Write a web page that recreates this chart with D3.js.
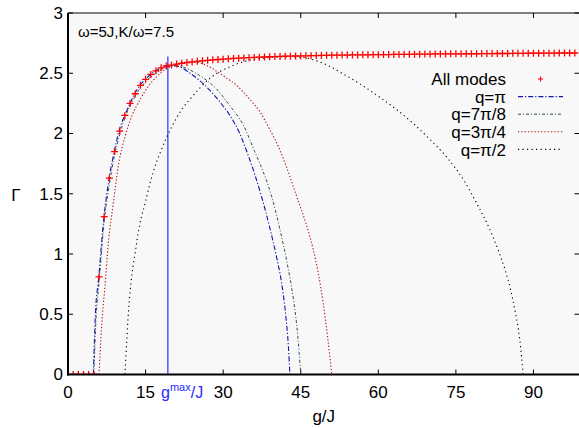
<!DOCTYPE html>
<html><head><meta charset="utf-8">
<script src="https://cdn.jsdelivr.net/npm/d3@7"></script>
<style>
body{margin:0;background:#fff;}
text{font-family:"Liberation Sans",Arial,Helvetica,sans-serif;}
</style></head><body>
<svg id="chart" width="579" height="428"></svg>
<script>
// ---------- data ----------
const xTicks = [0, 15, 30, 45, 60, 75, 90];
const xTickLabels = ["0", "15", "30", "45", "60", "75", "90"];
const yTicks = [0, 0.5, 1, 1.5, 2, 2.5, 3];
const yTickLabels = ["0", "0.5", "1", "1.5", "2", "2.5", "3"];

const allModesG = [0,1,2,3,4,5,6,7,8,9,10,11,12,13,14,15,16,17,18,19,20,21,22,23,24,25,26,27,28,29,30,31,32,33,34,35,36,37,38,39,40,41,42,43,44,45,46,47,48,49,50,51,52,53,54,55,56,57,58,59,60,61,62,63,64,65,66,67,68,69,70,71,72,73,74,75,76,77,78,79,80,81,82,83,84,85,86,87,88,89,90,91,92,93,94,95,96,97,98];
const allModesGamma = [0,0,0,0,0,0,0.81,1.31,1.63,1.85,2.02,2.15,2.25,2.33,2.40,2.45,2.49,2.52,2.545,2.56,2.568,2.576,2.583,2.589,2.594,2.599,2.603,2.607,2.611,2.614,2.617,2.620,2.623,2.625,2.627,2.629,2.631,2.633,2.635,2.637,2.638,2.640,2.641,2.642,2.643,2.644,2.645,2.646,2.647,2.648,2.649,2.650,2.650,2.651,2.651,2.652,2.652,2.653,2.653,2.654,2.654,2.655,2.655,2.656,2.656,2.657,2.657,2.658,2.658,2.659,2.659,2.660,2.660,2.660,2.661,2.661,2.661,2.662,2.662,2.662,2.663,2.663,2.663,2.664,2.664,2.664,2.665,2.665,2.665,2.666,2.666,2.666,2.667,2.667,2.667,2.668,2.668,2.668,2.668];

const qPiG     = [4.9,5.3,5.93,6.96,7.92,8.95,9.86,10.96,12.0,12.9,13.9,14.95,16.0,17.0,18.0,19.3,21.0,23.6,26.8,29.4,31.3,33.2,35.0,37.4,39.0,40.3,41.3,42.1,42.6,42.9];
const qPiGamma = [0,0.5,0.80,1.31,1.62,1.85,2.02,2.15,2.25,2.33,2.40,2.45,2.49,2.52,2.545,2.562,2.56,2.50,2.386,2.26,2.15,2.00,1.80,1.48,1.22,0.98,0.76,0.49,0.24,0];

const q7G     = [5.0,5.4,6.0,7.0,8.0,9.0,10.0,11.0,12.0,13.0,14.0,15.0,16.0,17.0,18.0,19.0,20.5,22.3,25.5,28.7,31.3,33.9,36.1,37.1,39.4,41.0,42.3,43.6,44.2,44.7,45.0];
const q7Gamma = [0,0.45,0.76,1.27,1.58,1.82,1.99,2.13,2.23,2.31,2.38,2.43,2.47,2.50,2.53,2.55,2.565,2.55,2.48,2.37,2.23,2.07,1.85,1.75,1.474,1.20,0.94,0.62,0.42,0.18,0];

const q3G     = [6.0,6.5,7.15,7.8,8.76,9.8,11.0,12.3,13.9,15.5,17.1,19.1,21.0,23.0,25.0,27.0,29.0,30.5,32.6,35.2,37.1,39.0,41.0,42.0,44.2,46.1,47.4,48.4,49.35,50.2,51.0];
const q3Gamma = [0,0.40,0.73,1.09,1.42,1.75,1.97,2.14,2.28,2.39,2.47,2.54,2.575,2.592,2.59,2.56,2.51,2.465,2.40,2.28,2.18,2.035,1.86,1.75,1.48,1.24,1.04,0.84,0.59,0.31,0];

const q2G     = [11.0,11.34,11.67,12.2,12.95,13.9,14.9,15.85,17.1,18.1,19.1,20.0,22.0,23.9,27.4,32.0,35.2,38.5,41.6,44.5,47.4,50.0,53.0,56.5,60.3,63.5,66.7,70.0,73.3,76.7,78.9,81.6,83.2,84.5,85.6,86.4,87.1,87.6,88.0];
const q2Gamma = [0,0.26,0.51,0.77,1.0,1.25,1.42,1.585,1.76,1.87,1.97,2.05,2.2,2.30,2.456,2.566,2.61,2.628,2.636,2.636,2.612,2.57,2.50,2.41,2.30,2.20,2.085,1.95,1.80,1.60,1.43,1.20,1.03,0.87,0.70,0.535,0.37,0.19,0];

const gMax = 19.3;
const gMaxTop = 2.64;

const legendLabels = ["All modes", "q=\u03c0", "q=7\u03c0/8", "q=3\u03c0/4", "q=\u03c0/2"];
const annotation = "\u03c9=5J,K/\u03c9=7.5";

// ---------- layout ----------
const svg = d3.select("#chart");
const L = 68, R = 579.5, T = 13, B = 374.5;
const x = d3.scaleLinear().domain([0, 98.9]).range([L, R]);
const y = d3.scaleLinear().domain([0, 3]).range([B, T]);

svg.append("rect").attr("x", L).attr("y", T).attr("width", R - L).attr("height", B - T).attr("fill", "#f8f8f8");

svg.append("defs").append("clipPath").attr("id", "clip")
  .append("rect").attr("x", L).attr("y", T).attr("width", R - L).attr("height", B - T);

// ticks (inward, all four sides)
const tk = 5;
const ax = svg.append("g").attr("stroke", "#000").attr("stroke-width", 1);
xTicks.forEach(v => {
  ax.append("line").attr("x1", x(v)).attr("x2", x(v)).attr("y1", B).attr("y2", B - tk);
  ax.append("line").attr("x1", x(v)).attr("x2", x(v)).attr("y1", T).attr("y2", T + tk);
});
yTicks.forEach(v => {
  ax.append("line").attr("x1", L).attr("x2", L + tk).attr("y1", y(v)).attr("y2", y(v));
  ax.append("line").attr("x1", R - tk).attr("x2", R).attr("y1", y(v)).attr("y2", y(v));
});

// tick labels
const fs = 17;
svg.append("g").selectAll("text").data(xTicks).join("text")
  .attr("x", d => x(d)).attr("y", 398).attr("text-anchor", "middle")
  .attr("font-size", fs).attr("fill", "#000").text((d, i) => xTickLabels[i]);
svg.append("g").selectAll("text").data(yTicks).join("text")
  .attr("x", 63).attr("y", d => y(d)).attr("dy", "0.35em").attr("text-anchor", "end")
  .attr("font-size", fs).attr("fill", "#000").text((d, i) => yTickLabels[i]);

// axis titles
svg.append("text").attr("x", (L + R) / 2).attr("y", 422).attr("text-anchor", "middle")
  .attr("font-size", fs).text("g/J");
svg.append("text").attr("x", 16).attr("y", 201).attr("text-anchor", "middle")
  .attr("font-size", fs).text("\u0393");

// annotation
svg.append("text").attr("x", 78).attr("y", 37).attr("font-size", 15).text(annotation);

// curves
const plot = svg.append("g").attr("clip-path", "url(#clip)");
const line = d3.line().x(d => x(d[0])).y(d => y(d[1])).curve(d3.curveMonotoneX);
const zip = (a, b) => a.map((v, i) => [v, b[i]]);
const series = [
  {g: qPiG, v: qPiGamma, color: "#1414a8", dash: "5,2,1.2,2", w: 1.1},
  {g: q7G,  v: q7Gamma,  color: "#2f5050", dash: "3,2,1,2", w: 1.0},
  {g: q3G,  v: q3Gamma,  color: "#b01414", dash: "1.3,2", w: 1.1},
  {g: q2G,  v: q2Gamma,  color: "#000000", dash: "1.2,3.3", w: 1.1}
];
// gmax vertical line
plot.append("line").attr("x1", x(gMax)).attr("x2", x(gMax)).attr("y1", y(gMaxTop)).attr("y2", B)
  .attr("stroke", "#6060ff").attr("stroke-width", 1.6);

series.forEach(s => {
  plot.append("path").datum(zip(s.g, s.v)).attr("d", line)
    .attr("fill", "none").attr("stroke", s.color).attr("stroke-width", s.w)
    .attr("stroke-dasharray", s.dash);
});

const plus = "M-3.5,0H3.5M0,-3.5V3.5";
plot.append("g").selectAll("path").data(zip(allModesG, allModesGamma)).join("path")
  .attr("transform", d => `translate(${x(d[0])},${y(d[1])})`)
  .attr("d", plus).attr("stroke", "#ff0000").attr("stroke-width", 1.3).attr("fill", "none");

// frame
svg.append("line").attr("x1", L).attr("x2", R).attr("y1", T).attr("y2", T).attr("stroke", "#000").attr("stroke-width", 1);
svg.append("line").attr("x1", R).attr("x2", R).attr("y1", T).attr("y2", B).attr("stroke", "#000").attr("stroke-width", 1);
svg.append("line").attr("x1", L).attr("x2", L).attr("y1", T).attr("y2", B + 1).attr("stroke", "#000").attr("stroke-width", 2);
svg.append("line").attr("x1", L - 1).attr("x2", R).attr("y1", B).attr("y2", B).attr("stroke", "#000").attr("stroke-width", 2);

// gmax label
const gl = svg.append("text").attr("x", 161).attr("y", 398).attr("font-size", 16).attr("fill", "#2a2aff");
gl.append("tspan").text("g");
gl.append("tspan").attr("dy", -7).attr("font-size", 11).text("max");
gl.append("tspan").attr("dy", 7).text("/J");

// legend
const lg = svg.append("g");
const ly0 = 79, ldy = 17.6, ltx = 506, lx1 = 518, lx2 = 563;
legendLabels.forEach((lab, i) => {
  const yy = ly0 + i * ldy;
  lg.append("text").attr("x", ltx).attr("y", yy).attr("dy", "0.36em").attr("text-anchor", "end")
    .attr("font-size", fs).text(lab);
  if (i === 0) {
    lg.append("path").attr("transform", `translate(${(lx1 + lx2) / 2},${yy})`)
      .attr("d", "M-2.5,0H2.5M0,-2.5V2.5").attr("stroke", "#ff0000").attr("stroke-width", 1.1);
  } else {
    const s = series[i - 1];
    lg.append("line").attr("x1", lx1).attr("x2", lx2).attr("y1", yy).attr("y2", yy)
      .attr("stroke", s.color).attr("stroke-width", s.w).attr("stroke-dasharray", s.dash);
  }
});
</script>
</body></html>
